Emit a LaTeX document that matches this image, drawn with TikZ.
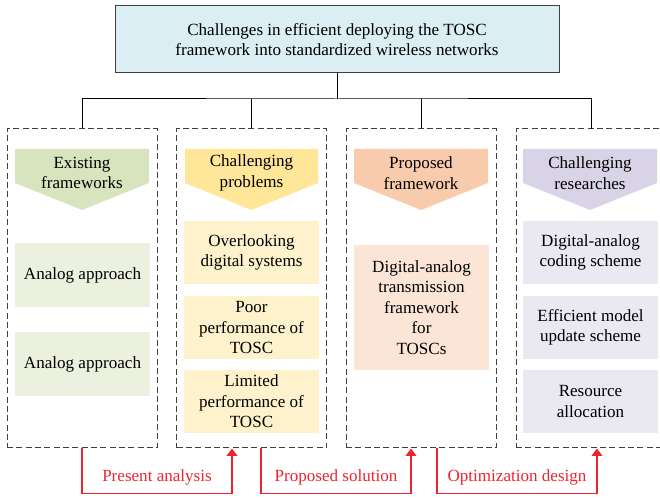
\documentclass[tikz,border=0pt]{standalone}
\usepackage{fontspec}
\setmainfont{Liberation Serif}
\usetikzlibrary{arrows.meta,calc}

\tikzset{every picture/.style={line width=0.75pt}}
\tikzset{
  topbox/.style={draw={rgb, 255:red, 64; green, 64; blue, 64}, fill={rgb, 255:red, 218; green, 238; blue, 243}, minimum width=333pt, minimum height=50.25pt, align=center, inner sep=0pt},
  colbox/.style={draw={rgb, 255:red, 64; green, 64; blue, 64}, dash pattern={on 4.5pt off 2.5pt}, minimum width=112.5pt, minimum height=239.25pt, inner sep=0pt},
  itembox/.style={minimum width=101.25pt, minimum height=47.25pt, align=center, inner sep=0pt},
  headtxt/.style={align=center, inner sep=0pt},
  redline/.style={draw={rgb, 255:red, 237; green, 36; blue, 48}, line width=0.9pt, -{Triangle[width=8pt,length=5.5pt]}},
  redtxt/.style={text={rgb, 255:red, 237; green, 36; blue, 48}, pos=0.25, yshift=12pt, inner sep=0pt}
}

\begin{document}
\begin{tikzpicture}[x=0.75pt,y=0.75pt,yscale=-1,xscale=1,font=\fontsize{12.8}{15.4}\selectfont]
	\useasboundingbox (0,0) rectangle (660,498);

	%Title box
	\node [topbox] (top) at (337,39.5) {Challenges in efficient deploying the TOSC\\framework into standardized wireless networks};

	%Dashed columns (the last one runs past the right edge)
	\node [colbox] (col1) at (82,288.5) {};
	\node [colbox] (col2) at (251.5,288.5) {};
	\node [colbox] (col3) at (421,288.5) {};
	\node [colbox, minimum width=123pt] (col4) at (598,288.5) {};

	%Tree lines
	\coordinate (hub) at (337,99);
	\coordinate (drop4) at (591,129);
	\draw (top.south) -- (hub);
	\draw (col1.north) |- (hub) -| (drop4);
	\draw (col2.north) -- (col2.north |- hub);
	\draw (col3.north) -- (col3.north |- hub);

	%Shape: Chevron headers
	\fill [fill={rgb, 255:red, 215; green, 228; blue, 189}] (15,149) -- (149,149) -- (149,183) -- (82,210) -- (15,183) -- cycle;
	\fill [fill={rgb, 255:red, 255; green, 230; blue, 153}] (185,149) -- (318,149) -- (318,183) -- (251.5,210) -- (185,183) -- cycle;
	\fill [fill={rgb, 255:red, 248; green, 203; blue, 173}] (354,149) -- (488,149) -- (488,183) -- (421,210) -- (354,183) -- cycle;
	\fill [fill={rgb, 255:red, 217; green, 211; blue, 232}] (523,149) -- (657,149) -- (657,183) -- (590,210) -- (523,183) -- cycle;
	\node [headtxt] (hd1) at (82,173) {Existing\\frameworks};
	\node [headtxt] (hd2) at (251.5,173) {Challenging\\problems};
	\node [headtxt] (hd3) at (421,173) {Proposed\\framework};
	\node [headtxt] (hd4) at (590,173) {Challenging\\researches};

	%Existing frameworks
	\node [itembox, fill={rgb, 255:red, 235; green, 241; blue, 222}, minimum height=48pt] (ex1) at (82.5,275) {Analog approach};
	\node [itembox, fill={rgb, 255:red, 235; green, 241; blue, 222}, minimum height=48pt] (ex2) at (82.5,364) {Analog approach};

	%Challenging problems
	\node [itembox, fill={rgb, 255:red, 253; green, 242; blue, 204}] (pb1) at (251.5,252.5) {Overlooking\\digital systems};
	\node [itembox, fill={rgb, 255:red, 253; green, 242; blue, 204}] (pb2) at (251.5,327.5) {Poor\\performance of\\TOSC};
	\node [itembox, fill={rgb, 255:red, 253; green, 242; blue, 204}] (pb3) at (251.5,401.5) {Limited\\performance of\\TOSC};

	%Proposed framework
	\node [itembox, fill={rgb, 255:red, 251; green, 229; blue, 214}, minimum height=93.75pt] (pf1) at (421.5,307.5) {Digital-analog\\transmission\\framework\\for\\TOSCs};

	%Challenging researches
	\node [itembox, fill={rgb, 255:red, 234; green, 232; blue, 240}] (rs1) at (590.5,252.5) {Digital-analog\\coding scheme};
	\node [itembox, fill={rgb, 255:red, 234; green, 232; blue, 240}] (rs2) at (590.5,327.5) {Efficient model\\update scheme};
	\node [itembox, fill={rgb, 255:red, 234; green, 232; blue, 240}] (rs3) at (590.5,401.5) {Resource\\allocation};

	%Red flow arrows
	\draw [redline] (col1.south) -- ++(0,45) -| node [redtxt] {Present analysis} ($(col2.south)+(-19.5,0)$);
	\draw [redline] ($(col2.south)+(9.5,0)$) -- ++(0,45) -| node [redtxt] {Proposed solution} ($(col3.south)+(-10,0)$);
	\draw [redline] ($(col3.south)+(16,0)$) -- ++(0,45) -| node [redtxt] {Optimization design} ($(col4.south)+(-1,0)$);
\end{tikzpicture}
\end{document}
